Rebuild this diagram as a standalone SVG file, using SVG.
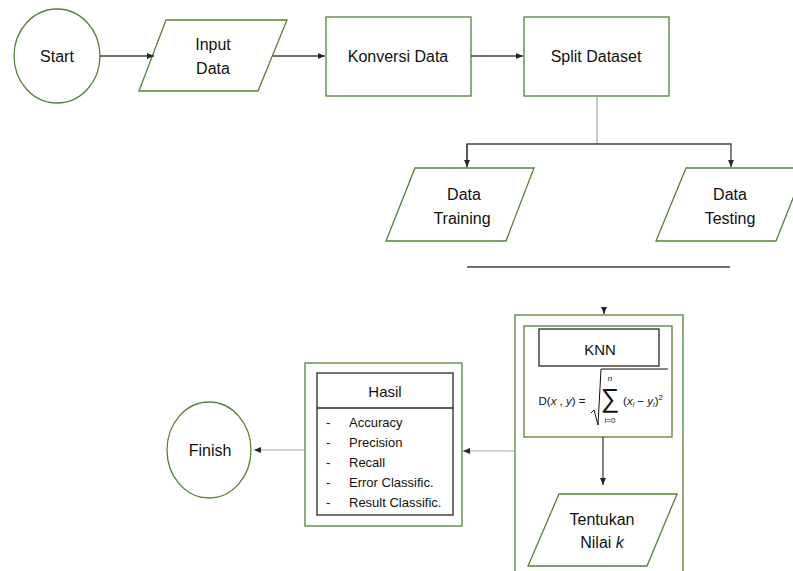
<svg xmlns="http://www.w3.org/2000/svg" width="793" height="571" viewBox="0 0 793 571">
<style>
.g{fill:#fff;stroke:#548235;stroke-width:1.3}
.b{fill:#fff;stroke:#262626;stroke-width:1.3}
.c{fill:none;stroke:#404040;stroke-width:1.3}
.cl{fill:none;stroke:#a6a6a6;stroke-width:1.2}
text{font-family:"Liberation Sans",Arial,sans-serif;fill:#111;text-anchor:middle}
.t{font-size:16px}
.s{font-size:13px;text-anchor:start}
.f{font-size:11.5px}
</style>
<defs>
<marker id="ah" markerWidth="8" markerHeight="8" refX="7" refY="4" orient="auto" markerUnits="userSpaceOnUse">
<path d="M0,1 L7,4 L0,7 Z" fill="#262626"/>
</marker>
</defs>
<rect width="793" height="571" fill="#fff"/>
<g id="start">
<ellipse class="g" cx="57" cy="56" rx="43" ry="47"/>
<text class="t" x="57" y="62">Start</text>
</g>
<g id="input-data">
<polygon class="g" points="166,20 287,20 258,91 139,91"/>
<text class="t" x="213" y="50">Input</text>
<text class="t" x="213" y="74">Data</text>
</g>
<g id="konversi">
<rect class="g" x="326" y="17" width="145" height="79"/>
<text class="t" x="398" y="62">Konversi Data</text>
</g>
<g id="split">
<rect class="g" x="524" y="17" width="145" height="79"/>
<text class="t" x="596" y="62">Split Dataset</text>
</g>
<g id="data-training">
<polygon class="g" points="415,168 534,168 506,241 386,241"/>
<text class="t" x="464" y="200">Data</text>
<text class="t" x="462" y="224">Training</text>
</g>
<g id="data-testing">
<polygon class="g" points="686,168 805,168 776,241 656,241"/>
<text class="t" x="730" y="200">Data</text>
<text class="t" x="730" y="224">Testing</text>
</g>
<g id="knn-group">
<rect class="g" x="515" y="315" width="168" height="270"/>
<rect class="g" x="524" y="326" width="148" height="111"/>
<rect class="b" x="539" y="329" width="120" height="37"/>
<text class="t" x="600" y="355" style="font-size:15px">KNN</text>
<text class="f" x="562" y="405">D(<tspan font-style="italic">x</tspan> , <tspan font-style="italic">y</tspan>) =</text>
<polyline fill="none" stroke="#111" stroke-width="1" points="591,413 594,410 598,425 601,369 668,369"/>
<text x="610" y="407" style="font-size:26px">∑</text>
<text x="610" y="381" style="font-size:8px;font-style:italic">n</text>
<text x="610" y="423" style="font-size:8px">i=0</text>
<text class="f" x="643" y="405">(<tspan font-style="italic">x</tspan><tspan font-size="7" dy="2" font-style="italic">i</tspan><tspan dy="-2"> − </tspan><tspan font-style="italic">y</tspan><tspan font-size="7" dy="2" font-style="italic">i</tspan><tspan dy="-2">)</tspan><tspan font-size="8" dy="-5">2</tspan></text>
</g>
<g id="tentukan">
<polygon class="g" points="559,494 677,494 647,566 528,566"/>
<text class="t" x="602" y="525">Tentukan</text>
<text class="t" x="602" y="548">Nilai <tspan font-style="italic">k</tspan></text>
</g>
<g id="hasil">
<rect class="g" x="305" y="363" width="157" height="163"/>
<rect class="b" x="317" y="373" width="136" height="142"/>
<line stroke="#262626" stroke-width="1.3" x1="317" y1="408" x2="453" y2="408"/>
<text x="385" y="397" style="font-size:15px">Hasil</text>
<text class="s" x="326" y="427">-</text><text class="s" x="349" y="427">Accuracy</text>
<text class="s" x="326" y="447">-</text><text class="s" x="349" y="447">Precision</text>
<text class="s" x="326" y="467">-</text><text class="s" x="349" y="467">Recall</text>
<text class="s" x="326" y="487">-</text><text class="s" x="349" y="487">Error Classific.</text>
<text class="s" x="326" y="507">-</text><text class="s" x="349" y="507">Result Classific.</text>
</g>
<g id="finish">
<ellipse class="g" cx="209" cy="450" rx="42" ry="48"/>
<text class="t" x="210" y="456">Finish</text>
</g>
<g id="connectors">
<line class="c" x1="100" y1="56" x2="154" y2="56" marker-end="url(#ah)"/>
<line class="c" x1="273" y1="56" x2="325" y2="56" marker-end="url(#ah)"/>
<line class="c" x1="471" y1="56" x2="523" y2="56" marker-end="url(#ah)"/>
<line class="cl" x1="597" y1="96" x2="597" y2="144"/>
<polyline class="c" points="467,167 467,144 731,144 731,167" marker-end="url(#ah)"/>
<line class="c" x1="467" y1="144" x2="467" y2="167" marker-end="url(#ah)"/>
<line class="c" x1="467" y1="267" x2="730" y2="267"/>
<line class="c" x1="604" y1="307" x2="604" y2="314" marker-end="url(#ah)"/>
<line class="c" x1="603" y1="437" x2="603" y2="485" marker-end="url(#ah)"/>
<line class="cl" x1="515" y1="451" x2="463" y2="451" marker-end="url(#ah)"/>
<line class="cl" x1="305" y1="450" x2="254" y2="450" marker-end="url(#ah)"/>
</g>
</svg>
